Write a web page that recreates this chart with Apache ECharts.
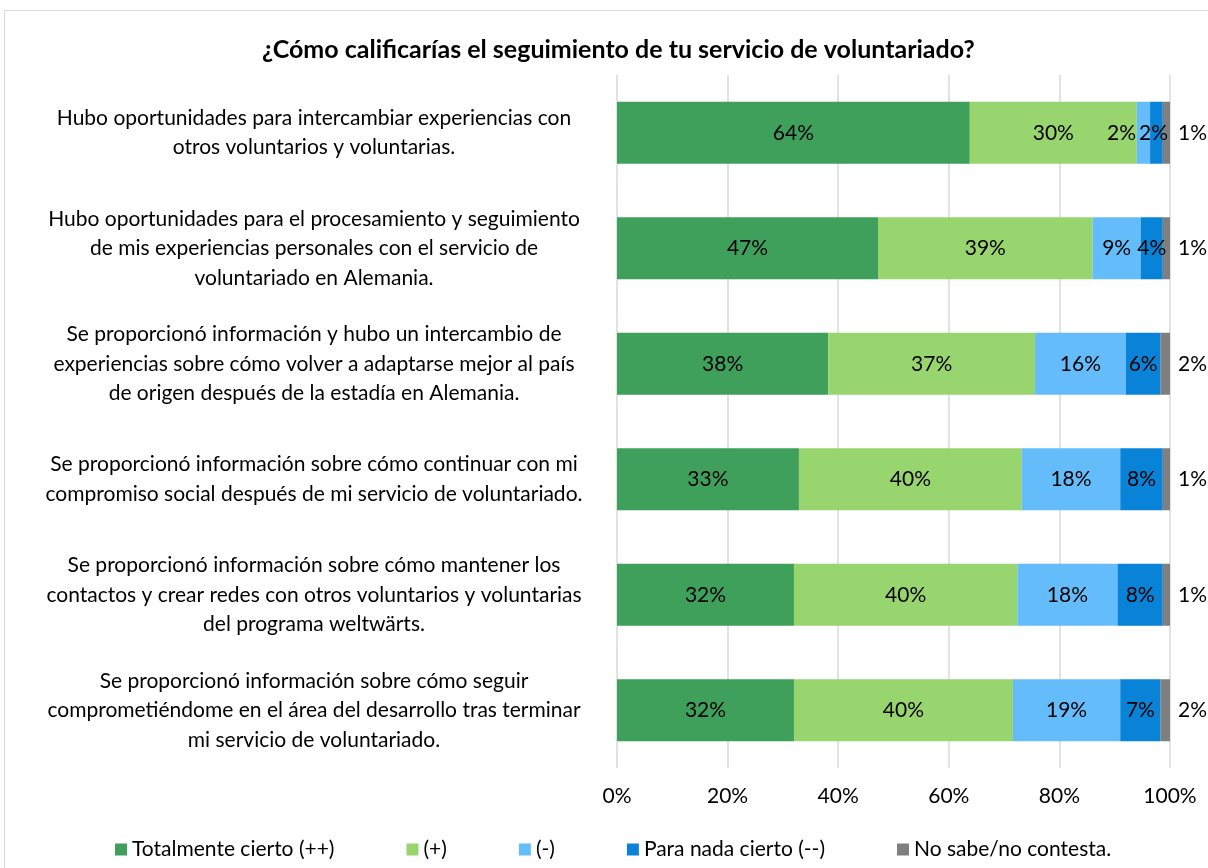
<!DOCTYPE html>
<html>
<head>
<meta charset="utf-8">
<script src="https://cdn.jsdelivr.net/npm/echarts@6/dist/echarts.min.js"></script>
<style>
  html, body { margin: 0; padding: 0; background: #fff; }
  #chart { width: 1208px; height: 868px; }
</style>
</head>
<body>
<div id="chart"></div>
<script>
var categories = [
    "Hubo oportunidades para intercambiar experiencias con\notros voluntarios y voluntarias.",
    "Hubo oportunidades para el procesamiento y seguimiento\nde mis experiencias personales con el servicio de\nvoluntariado en Alemania.",
    "Se proporcionó información y hubo un intercambio de\nexperiencias sobre cómo volver a adaptarse mejor al país\nde origen después de la estadía en Alemania.",
    "Se proporcionó información sobre cómo continuar con mi\ncompromiso social después de mi servicio de voluntariado.",
    "Se proporcionó información sobre cómo mantener los\ncontactos y crear redes con otros voluntarios y voluntarias\ndel programa weltwärts.",
    "Se proporcionó información sobre cómo seguir\ncomprometiéndome en el área del desarrollo tras terminar\nmi servicio de voluntariado."
];

var totalmente = [63.8, 47.2, 38.2, 32.9, 32.0, 32.0];
var positivo = [30.2, 38.8, 37.4, 40.3, 40.4, 39.6];
var negativo = [2.4, 8.7, 16.4, 17.8, 18.1, 19.4];
var paraNada = [2.3, 4.0, 6.3, 7.7, 8.2, 7.3];
var noSabe = [1.3, 1.3, 1.7, 1.3, 1.3, 1.7];

var seriesNames = ["Totalmente cierto (++)", "(+)", "(-)", "Para nada cierto (--)", "No sabe/no contesta."];
var seriesColors = ["#3ea05a", "#98d56f", "#64bdfa", "#0883d8", "#7f7f7f"];
var xTicks = [0, 20, 40, 60, 80, 100];

var fontName = "Lato";

function pct(p) {
    return Math.round(p.value) + "%";
}

function makeSerie(idx, data) {
    return {
        name: seriesNames[idx],
        type: 'bar',
        stack: 'total',
        barWidth: 62,
        itemStyle: {color: seriesColors[idx]},
        label: {
            show: true,
            position: idx === 4 ? 'right' : 'inside',
            distance: 8,
            color: '#000',
            fontFamily: fontName,
            fontSize: 21,
            formatter: pct
        },
        data: data
    };
}

var series = [
    makeSerie(0, totalmente),
    makeSerie(1, positivo),
    makeSerie(2, negativo),
    makeSerie(3, paraNada),
    makeSerie(4, noSabe)
];
// first row: small "(-)" label sits left of its segment like in the source
series[2].labelLayout = function (p) {
    return p.dataIndex === 0 ? {dx: -22} : {};
};
series[3].labelLayout = function (p) {
    return p.dataIndex === 0 ? {dx: -3} : {};
};

var option = {
    animation: false,
    backgroundColor: '#fff',
    textStyle: {fontFamily: fontName},
    graphic: [{
            type: 'rect',
            shape: {x: 4.5, y: 10.5, width: 1230, height: 900},
            style: {fill: 'none', stroke: '#d9d9d9', lineWidth: 1},
            silent: true
        }],
    title: {
        text: "¿Cómo calificarías el seguimiento de tu servicio de voluntariado?",
        left: 257,
        top: 32,
        textStyle: {fontFamily: fontName, fontSize: 25, fontWeight: 'bold', color: '#000'}
    },
    legend: {
        data: seriesNames,
        left: 110,
        top: 834,
        itemWidth: 12,
        itemHeight: 12,
        itemGap: 72,
        icon: 'rect',
        textStyle: {fontFamily: fontName, fontSize: 21, color: '#000'}
    },
    grid: {
        left: 617,
        right: 38,
        top: 75,
        bottom: 100,
        containLabel: false
    },
    xAxis: {
        type: 'value',
        min: xTicks[0],
        max: xTicks[xTicks.length - 1],
        interval: 20,
        axisLine: {show: false},
        axisTick: {show: false},
        splitLine: {show: true, lineStyle: {color: '#d9d9d9', width: 1.5}},
        axisLabel: {
            margin: 18,
            color: '#000',
            fontFamily: fontName,
            fontSize: 21,
            formatter: '{value}%'
        }
    },
    yAxis: {
        type: 'category',
        inverse: true,
        data: categories,
        axisLine: {show: false},
        axisTick: {show: false},
        axisLabel: {
            align: 'center',
            margin: 303,
            lineHeight: 29.5,
            color: '#000',
            fontFamily: fontName,
            fontSize: 21
        }
    },
    series: series
};

var chart = echarts.init(document.getElementById('chart'));
chart.setOption(option);
</script>
</body>
</html>
